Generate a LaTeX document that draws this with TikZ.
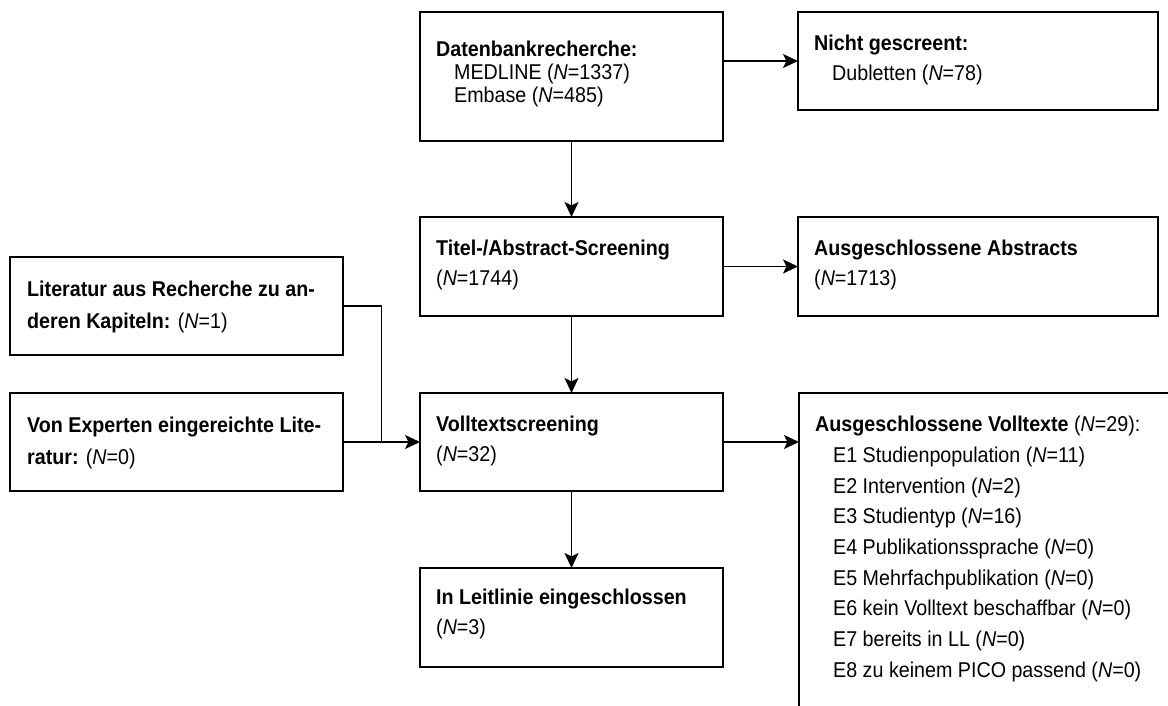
\documentclass[tikz,border=0pt]{standalone}
\usepackage{fontspec}
\setmainfont{Liberation Sans}[FakeStretch=0.92]
\usetikzlibrary{arrows.meta,calc}
\newcommand{\Nn}[1]{(\textit{N}=#1)}
\newcommand{\ind}{\hspace*{18pt}}
\begin{document}
\begin{tikzpicture}[x=1pt,y=-1pt,
  box/.style={draw=black, line width=2.2pt, inner sep=0pt, outer sep=0pt, anchor=north west},
  txt/.style={anchor=north west, inner sep=0pt, align=left, font=\fontsize{21.4}{#1}\selectfont},
  txt/.default=30.5,
  link/.style={line width=1.8pt},
  arr/.style={link, -{Stealth[length=15pt,width=14pt,inset=3.5pt]}}]
\fill[white] (0,0) rectangle (1168,705);
\useasboundingbox (0,0) rectangle (1168,705);
\clip (0,0) rectangle (1168,705);

% boxes
\node[box, minimum width=303pt, minimum height=129pt] (A) at (420,12) {};
\node[box, minimum width=360pt, minimum height=98pt]  (B) at (798,12) {};
\node[box, minimum width=303pt, minimum height=99pt]  (C) at (420,217) {};
\node[box, minimum width=360pt, minimum height=99pt]  (D) at (798,217) {};
\node[box, minimum width=333pt, minimum height=98pt]  (E) at (10,257) {};
\node[box, minimum width=333pt, minimum height=98pt]  (F) at (10,393) {};
\node[box, minimum width=303pt, minimum height=98pt]  (G) at (420,393) {};
\node[box, minimum width=420pt, minimum height=360pt] (H) at (799,393) {};
\node[box, minimum width=303pt, minimum height=99pt]  (I) at (420,568) {};

% texts
\node[txt=23] (tA) at (436,41) {\textbf{Datenbankrecherche:}\\\ind MEDLINE \Nn{1337}\\\ind Embase \Nn{485}};
\node[txt=30] (tB) at (814,35) {\textbf{Nicht gescreent:}\\\ind Dubletten \Nn{78}};
\node[txt=30] (tC) at (436,240) {\textbf{Titel-/Abstract-Screening}\\\Nn{1744}};
\node[txt=30] (tD) at (814,240) {\textbf{Ausgeschlossene Abstracts}\\\Nn{1713}};
\node[txt=32] (tE) at (27,281) {\textbf{Literatur aus Recherche zu an-}\\\textbf{deren Kapiteln:} \Nn{1}};
\node[txt=32] (tF) at (27,417) {\textbf{Von Experten eingereichte Lite-}\\\textbf{ratur:} \Nn{0}};
\node[txt=30] (tG) at (436,416) {\textbf{Volltextscreening}\\\Nn{32}};
\node[txt=30.7] (tH) at (815,416) {\textbf{Ausgeschlossene Volltexte} \Nn{29}:\\
  \ind E1 Studienpopulation \Nn{11}\\
  \ind E2 Intervention \Nn{2}\\
  \ind E3 Studientyp \Nn{16}\\
  \ind E4 Publikationssprache \Nn{0}\\
  \ind E5 Mehrfachpublikation \Nn{0}\\
  \ind E6 kein Volltext beschaffbar \Nn{0}\\
  \ind E7 bereits in LL \Nn{0}\\
  \ind E8 zu keinem PICO passend \Nn{0}};
\node[txt=30] (tI) at (436,589) {\textbf{In Leitlinie eingeschlossen}\\\Nn{3}};

% connectors
\draw[arr] (A.east |- B.west) -- (B.west);
\draw[arr] (A.south) -- (C.north);
\draw[arr] (C.east) -- (D.west);
\draw[arr] (C.south) -- (G.north);
\draw[arr] (G.east) -- (G.east -| H.west);
\draw[arr] (G.south) -- (I.north);
\draw[arr] (F.east) -- (G.west);
\coordinate (J) at ($(F.east)!0.5!(G.west)$);
\draw[link] (E.east) -| (J);
\end{tikzpicture}
\end{document}
